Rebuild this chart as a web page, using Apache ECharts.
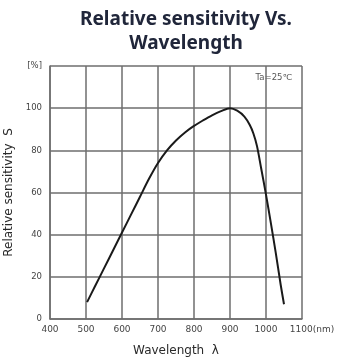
<!DOCTYPE html>
<html>
<head>
<meta charset="utf-8">
<script src="https://cdn.jsdelivr.net/npm/echarts@6/dist/echarts.min.js"></script>
<style>
  html, body { margin: 0; padding: 0; background: #fff; }
  #chart { width: 337px; height: 362px; }
</style>
</head>
<body>
<div id="chart"></div>
<script>
// Relative spectral sensitivity of the photodiode, Ta = 25 °C
const wavelength = [503, 525, 550, 575, 600, 625, 650, 675, 700, 725, 750, 775, 800, 825, 850, 875, 900, 920, 940, 955, 965, 975, 986, 1000, 1014, 1027, 1041, 1050];
const sensitivity = [8, 15.5, 24, 32.5, 41, 49.5, 58, 66.5, 74, 80, 84.7, 88.5, 91.6, 94.2, 96.6, 98.6, 100, 98.8, 96, 92, 88, 82, 72, 59, 45, 31.5, 16, 7];
const xTicks = [400, 500, 600, 700, 800, 900, 1000, 1100];
const yTicks = [0, 20, 40, 60, 80, 100, 120];

const gridColor = '#6e6e6e';
const labelColor = '#444';
const labelFont = 'DejaVu Sans';

const chart = echarts.init(document.getElementById('chart'), null, { renderer: 'canvas' });

chart.setOption({
  animation: false,
  backgroundColor: '#fff',
  title: {
    text: 'Relative sensitivity Vs.\nWavelength',
    left: 181,
    textAlign: 'center',
    top: 3,
    textStyle: {
      fontFamily: 'Noto Sans',
      fontWeight: 'bold',
      fontSize: 19,
      lineHeight: 24,
      color: '#20263a'
    }
  },
  graphic: [{
    type: 'text',
    right: 45,
    top: 73,
    style: { text: 'Ta=25℃', fontSize: 8.5, fontFamily: labelFont, fill: '#555' }
  }],
  grid: { left: 50, right: 35, top: 66, bottom: 43, outerBoundsMode: 'none', containLabel: false },
  xAxis: {
    type: 'value',
    min: xTicks[0],
    max: xTicks[xTicks.length - 1],
    interval: 100,
    name: 'Wavelength  λ',
    nameLocation: 'middle',
    nameGap: 26,
    nameTextStyle: { fontFamily: labelFont, fontSize: 12, color: '#2a2a2a' },
    axisLine: { show: true, lineStyle: { color: gridColor, width: 1.5 } },
    axisTick: { show: false },
    splitLine: { show: true, lineStyle: { color: gridColor, width: 1.5 } },
    axisLabel: {
      margin: 6,
      fontFamily: labelFont,
      fontSize: 9,
      color: labelColor,
      formatter: function (v) {
        return v === 1100 ? '{s|}1100(nm)' : String(v);
      },
      rich: { s: { width: 20 } }
    }
  },
  yAxis: {
    type: 'value',
    min: yTicks[0],
    max: yTicks[yTicks.length - 1],
    interval: 20,
    name: 'Relative sensitivity  S',
    nameLocation: 'middle',
    nameRotate: 90,
    nameGap: 34,
    nameTextStyle: { fontFamily: labelFont, fontSize: 12, color: '#2a2a2a' },
    axisLine: { show: true, lineStyle: { color: gridColor, width: 1.5 } },
    axisTick: { show: false },
    splitLine: { show: true, lineStyle: { color: gridColor, width: 1.5 } },
    axisLabel: {
      margin: 8,
      fontFamily: labelFont,
      fontSize: 8.5,
      color: labelColor,
      formatter: function (v) {
        return v === 120 ? '[%]' : String(v);
      }
    }
  },
  series: [{
    type: 'line',
    smooth: 0.3,
    showSymbol: false,
    lineStyle: { color: '#1a1a1a', width: 2 },
    data: wavelength.map((w, i) => [w, sensitivity[i]])
  }]
});
</script>
</body>
</html>
